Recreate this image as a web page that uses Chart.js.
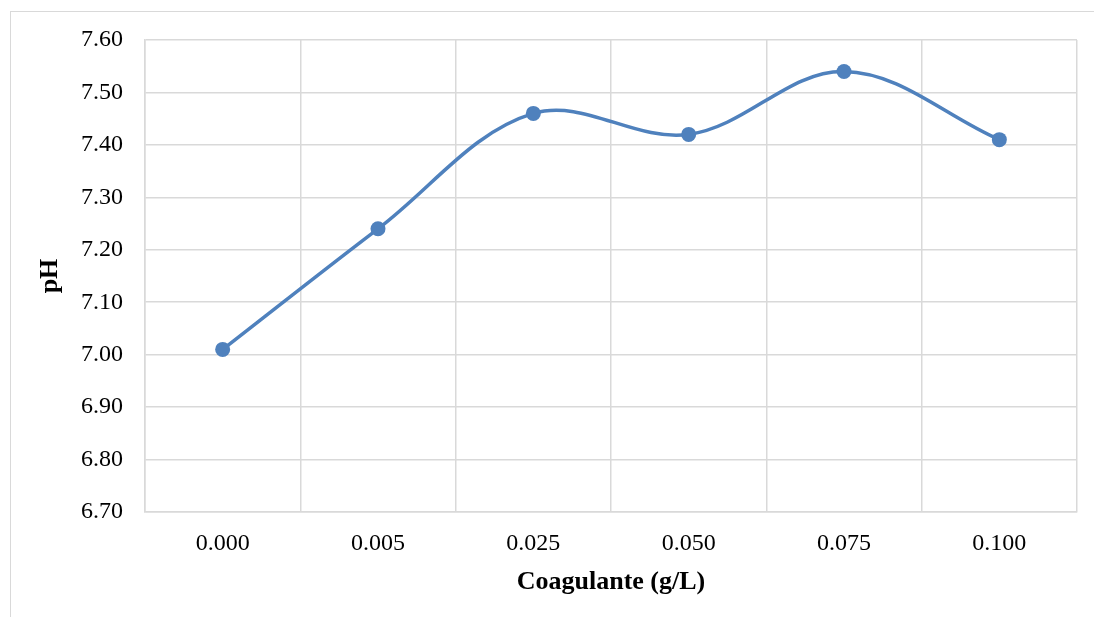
<!DOCTYPE html>
<html>
<head>
<meta charset="utf-8">
<script src="https://cdn.jsdelivr.net/npm/chart.js@4/dist/chart.umd.min.js"></script>
<style>
  html, body { margin: 0; padding: 0; background: #ffffff; }
  #wrap { position: relative; width: 1094px; height: 617px; overflow: hidden; }
  #frame { position: absolute; left: 10px; top: 11px; width: 1200px; height: 700px;
           border-top: 1px solid #d9d9d9; border-left: 1px solid #d9d9d9; }
  canvas { position: absolute; left: 0; top: 0; }
</style>
</head>
<body>
<div id="wrap">
  <div id="frame"></div>
  <canvas id="c" width="1094" height="617"></canvas>
</div>
<script>
// Coagulant dose (g/L) and the measured pH
const doses = ['0.000', '0.005', '0.025', '0.050', '0.075', '0.100'];
const phValues = [7.01, 7.24, 7.46, 7.42, 7.54, 7.41];
const yMin = 6.70;
const yMax = 7.60;
const yStep = 0.10;

const serif = "'Liberation Serif', 'Times New Roman', serif";
const gridColor = '#d9d9d9';

new Chart(document.getElementById('c'), {
  type: 'line',
  data: {
    labels: doses,
    datasets: [{
      data: phValues,
      borderColor: '#4f81bd',
      backgroundColor: '#4f81bd',
      borderWidth: 3.5,
      pointRadius: 7.5,
      pointHoverRadius: 7.5,
      pointBorderWidth: 0,
      tension: 0.36,
      fill: false
    }]
  },
  options: {
    responsive: false,
    animation: false,
    devicePixelRatio: 1,
    layout: { padding: { top: 40, right: 17, bottom: 0, left: 0 } },
    plugins: { legend: { display: false }, tooltip: { enabled: false } },
    scales: {
      x: {
        offset: true,
        grid: { offset: true, color: gridColor, lineWidth: 1.5, drawTicks: false },
        border: { color: gridColor, width: 1.5 },
        ticks: { color: '#000', font: { family: serif, size: 24 }, padding: 17, maxRotation: 0 },
        title: { display: true, text: 'Coagulante (g/L)', color: '#000',
                 font: { family: serif, size: 26, weight: 'bold' }, padding: { top: 0, bottom: 19 } },
        afterFit: s => { s.height = 105; }
      },
      y: {
        min: yMin,
        max: yMax,
        grid: { color: gridColor, lineWidth: 1.5, drawTicks: false },
        border: { color: gridColor, width: 1.5 },
        ticks: { stepSize: yStep, color: '#000', font: { family: serif, size: 24 }, padding: 22,
                 callback: v => Number(v).toFixed(2) },
        title: { display: true, text: 'pH', color: '#000',
                 font: { family: serif, size: 26, weight: 'bold' }, padding: { top: 35, bottom: 0 } },
        afterFit: s => { s.width = 145; }
      }
    }
  }
});
</script>
</body>
</html>
